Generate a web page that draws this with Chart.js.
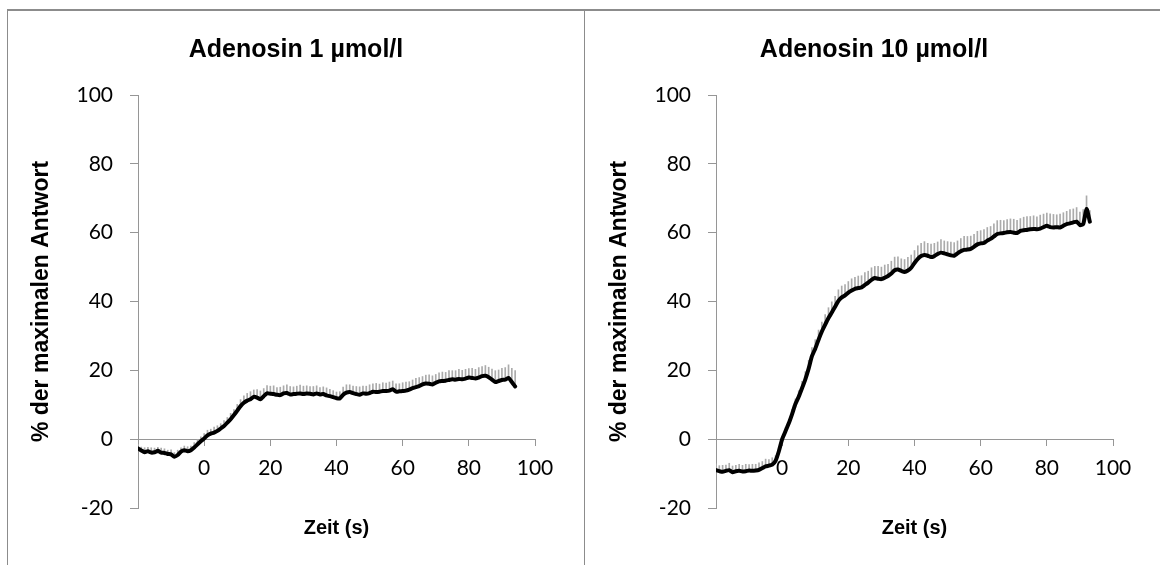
<!DOCTYPE html>
<html>
<head>
<meta charset="utf-8">
<script src="https://cdn.jsdelivr.net/npm/chart.js@4.4.0/dist/chart.umd.min.js"></script>
<style>
  html, body { margin: 0; padding: 0; background: #fff; }
  #seite { position: relative; width: 1160px; height: 565px; overflow: hidden; }
  canvas { position: absolute; top: 0; }
  #links { left: 0; }
  #rechts { left: 578px; }
  .rahmen { position: absolute; background: #8c8c8c; }
</style>
</head>
<body>
<div id="seite">
  <canvas id="links" width="580" height="565"></canvas>
  <canvas id="rechts" width="580" height="565"></canvas>
  <div class="rahmen" style="left:7px; top:9px; width:1153px; height:2px;"></div>
  <div class="rahmen" style="left:7px; top:9px; width:1px; height:556px;"></div>
  <div class="rahmen" style="left:584px; top:9px; width:1px; height:556px;"></div>
</div>
<script>
// Zeitachse (s)
const zeit1 = [-20, -19, -18, -17, -16, -15, -14, -13, -12, -11, -10, -9, -8, -7, -6, -5, -4, -3, -2, -1,
  0, 1, 2, 3, 4, 5, 6, 7, 8, 9, 10, 11, 12, 13, 14, 15, 16, 17, 18, 19,
  20, 21, 22, 23, 24, 25, 26, 27, 28, 29, 30, 31, 32, 33, 34, 35, 36, 37, 38, 39,
  40, 41, 42, 43, 44, 45, 46, 47, 48, 49, 50, 51, 52, 53, 54, 55, 56, 57, 58, 59,
  60, 61, 62, 63, 64, 65, 66, 67, 68, 69, 70, 71, 72, 73, 74, 75, 76, 77, 78, 79,
  80, 81, 82, 83, 84, 85, 86, 87, 88, 89, 90, 91, 92, 93, 94];

const zeit2 = [-20, -19, -18, -17, -16, -15, -14, -13, -12, -11, -10, -9, -8, -7, -6, -5, -4, -3, -2, -1,
  0, 1, 2, 3, 4, 5, 6, 7, 8, 9, 10, 11, 12, 13, 14, 15, 16, 17, 18, 19,
  20, 21, 22, 23, 24, 25, 26, 27, 28, 29, 30, 31, 32, 33, 34, 35, 36, 37, 38, 39,
  40, 41, 42, 43, 44, 45, 46, 47, 48, 49, 50, 51, 52, 53, 54, 55, 56, 57, 58, 59,
  60, 61, 62, 63, 64, 65, 66, 67, 68, 69, 70, 71, 72, 73, 74, 75, 76, 77, 78, 79,
  80, 81, 82, 83, 84, 85, 86, 87, 88, 89, 90, 91, 92, 93];

// Adenosin 1 µmol/l: Mittelwert und Fehler (% der maximalen Antwort)
const werte1 = [-2.7, -3.3, -3.8, -3.5, -3.9, -3.8, -3.4, -3.9, -4.0, -4.3, -4.4, -5.1, -4.6, -3.6, -3.2, -3.5, -3.2, -2.4, -1.5, -0.6,
  0.2, 1.1, 1.6, 1.9, 2.4, 3.1, 3.8, 4.8, 5.8, 7.0, 8.3, 9.6, 10.6, 11.2, 11.6, 12.3, 12.1, 11.6, 12.5, 13.3,
  13.2, 13.1, 12.9, 12.8, 13.3, 13.4, 13.0, 13.1, 13.2, 13.3, 13.1, 13.3, 13.2, 13.0, 13.3, 13.0, 13.1, 12.7, 12.5, 12.2,
  11.9, 11.8, 12.9, 13.5, 13.7, 13.4, 13.1, 12.9, 13.3, 13.2, 13.4, 13.8, 13.7, 13.8, 14.0, 14.0, 14.1, 14.5, 13.8, 13.9,
  14.0, 14.1, 14.4, 14.8, 15.1, 15.4, 15.9, 16.2, 16.1, 15.9, 16.4, 16.8, 16.9, 17.0, 17.2, 17.4, 17.3, 17.5, 17.4, 17.6,
  17.9, 17.8, 17.6, 17.9, 18.3, 18.4, 18.0, 17.3, 16.6, 16.9, 17.2, 17.3, 17.8, 16.6, 15.3];

const fehler1 = [1.2, 1.0, 1.3, 1.1, 1.4, 1.2, 1.0, 1.3, 1.2, 1.1, 1.3, 1.2, 1.4, 1.1, 1.2, 1.3, 1.2, 1.4, 1.5, 1.3,
  1.4, 1.5, 1.3, 1.6, 1.5, 1.4, 1.6, 1.5, 1.7, 1.6, 1.8, 1.9, 2.0, 2.1, 2.2, 2.0, 2.3, 2.4, 2.2, 2.3,
  2.2, 2.4, 2.1, 2.3, 2.2, 2.4, 2.3, 2.1, 2.2, 2.4, 2.3, 2.2, 2.1, 2.3, 2.2, 2.0, 2.1, 2.2, 2.0, 1.9,
  1.8, 2.0, 2.2, 2.3, 2.1, 2.0, 2.2, 2.3, 2.1, 2.2, 2.4, 2.3, 2.5, 2.2, 2.4, 2.3, 2.5, 2.4, 2.3, 2.2,
  2.4, 2.5, 2.3, 2.4, 2.6, 2.5, 2.3, 2.4, 2.6, 2.5, 2.4, 2.5, 2.6, 2.4, 2.7, 2.5, 2.6, 2.8, 2.6, 2.7,
  2.6, 2.8, 2.7, 2.9, 2.8, 3.0, 2.9, 3.1, 3.3, 3.2, 3.4, 3.5, 3.8, 4.0, 4.6];

// Adenosin 10 µmol/l
const werte2 = [-9.0, -9.3, -9.5, -9.2, -9.0, -9.6, -9.3, -9.2, -9.4, -9.3, -9.1, -9.2, -9.1, -8.9, -8.4, -7.9, -7.7, -7.4, -6.3, -3.5,
  0.0, 2.3, 4.6, 7.3, 10.2, 12.3, 14.8, 17.4, 20.5, 24.1, 26.3, 28.9, 31.3, 33.3, 35.2, 36.8, 38.5, 40.2, 41.2, 41.8,
  42.6, 43.2, 43.7, 43.9, 44.1, 44.8, 45.5, 46.3, 46.8, 46.6, 46.5, 46.9, 47.4, 48.1, 49.1, 49.3, 48.9, 48.6, 49.0, 49.8,
  51.2, 52.4, 53.2, 53.5, 53.3, 52.9, 53.2, 53.8, 54.2, 54.0, 53.7, 53.4, 53.3, 54.0, 54.6, 55.0, 55.1, 55.3, 55.9, 56.6,
  56.9, 57.0, 57.7, 58.2, 58.9, 59.6, 59.8, 59.9, 60.1, 60.2, 60.0, 59.9, 60.5, 60.7, 60.8, 61.0, 61.1, 61.0, 61.2, 61.6,
  62.0, 61.6, 61.5, 61.6, 61.5, 62.0, 62.5, 62.7, 63.0, 63.2, 62.2, 62.5, 66.9, 63.2];

const fehler2 = [1.8, 1.6, 1.9, 1.7, 2.0, 1.8, 1.7, 1.9, 1.8, 2.0, 1.7, 1.9, 1.8, 2.0, 1.9, 2.1, 1.8, 2.0, 1.5, 1.0,
  0.8, 1.0, 1.2, 1.4, 1.5, 1.8, 2.0, 2.2, 2.4, 2.5, 2.6, 2.8, 2.7, 2.9, 3.0, 3.1, 3.0, 3.2, 3.3, 3.1,
  3.2, 3.4, 3.3, 3.5, 3.4, 3.6, 3.3, 3.5, 3.4, 3.6, 3.5, 3.7, 3.4, 3.6, 3.8, 3.7, 3.5, 3.6, 3.8, 3.7,
  3.6, 3.8, 3.7, 3.9, 3.6, 3.8, 3.7, 3.5, 3.8, 3.6, 3.7, 3.9, 3.8, 3.6, 3.7, 3.9, 3.8, 3.7, 3.6, 3.8,
  3.7, 3.9, 3.8, 3.6, 3.7, 3.9, 3.8, 3.6, 3.7, 3.8, 3.9, 3.7, 3.6, 3.8, 3.9, 3.7, 3.8, 3.6, 3.9, 3.8,
  3.7, 3.9, 3.8, 3.6, 3.9, 3.8, 3.7, 4.0, 3.9, 4.1, 3.8, 4.2, 3.8, 3.2];

const xTicks = [-20, 0, 20, 40, 60, 80, 100];
const yTicks = [-20, 0, 20, 40, 60, 80, 100];

const schriftTitel = '"Liberation Sans", Arial, sans-serif';
const schriftZahlen = 'Lato, "Open Sans", sans-serif';

// Titel und x-Achsentitel selbst zeichnen
const beschriftung = {
  id: 'beschriftung',
  afterDraw(chart, args, opts) {
    const ctx = chart.ctx;
    const area = chart.chartArea;
    ctx.save();
    ctx.fillStyle = '#000';
    ctx.textAlign = 'center';
    ctx.textBaseline = 'middle';
    ctx.font = 'bold 25px ' + schriftTitel;
    ctx.fillText(opts.titel, opts.titelX, 50);
    ctx.font = 'bold 20px ' + schriftTitel;
    ctx.fillText('Zeit (s)', (area.left + area.right) / 2, 528);
    ctx.restore();
  }
};

function zeichneDiagramm(id, titel, titelX, zeit, werte, fehler) {
  const linie = zeit.map((t, i) => ({ x: t, y: werte[i] }));
  const balken = zeit.map((t, i) => ({ x: t, y: [werte[i], werte[i] + fehler[i]] }));

  new Chart(document.getElementById(id), {
    type: 'line',
    data: {
      datasets: [{
        type: 'line',
        data: linie,
        borderColor: '#000',
        borderWidth: 4,
        pointRadius: 0,
        tension: 0.2,
        borderJoinStyle: 'round',
        borderCapStyle: 'round',
        order: 0
      }, {
        type: 'bar',
        data: balken,
        backgroundColor: '#ababab',
        barThickness: 1,
        order: 1
      }]
    },
    options: {
      responsive: false,
      animation: false,
      devicePixelRatio: 1,
      layout: { padding: { top: 95, right: 45, bottom: 57, left: 0 } },
      plugins: {
        legend: { display: false },
        tooltip: { enabled: false },
        beschriftung: { titel: titel, titelX: titelX }
      },
      scales: {
        x: {
          type: 'linear',
          position: { y: 0 },
          min: -20,
          max: 100,
          offset: false,
          afterBuildTicks: s => { s.ticks = xTicks.map(v => ({ value: v })); },
          ticks: {
            color: '#000',
            font: { family: schriftZahlen, size: 21 },
            padding: 10,
            maxRotation: 0,
            autoSkip: false,
            callback: v => (v === -20 ? '' : v)
          },
          grid: { drawOnChartArea: false, offset: false, tickLength: 6, color: '#969696' },
          border: { color: '#969696' }
        },
        y: {
          min: -20,
          max: 100,
          afterBuildTicks: s => { s.ticks = yTicks.map(v => ({ value: v })); },
          afterFit: s => { s.width = 138; },
          ticks: {
            color: '#000',
            font: { family: schriftZahlen, size: 21 },
            padding: 17
          },
          grid: { drawOnChartArea: false, tickLength: 8, color: '#969696' },
          border: { color: '#969696' },
          title: {
            display: true,
            text: '% der maximalen Antwort',
            color: '#000',
            font: { family: schriftTitel, size: 23, weight: 'bold' },
            padding: { top: 28, bottom: 0 }
          }
        }
      }
    },
    plugins: [beschriftung]
  });
}

zeichneDiagramm('links', 'Adenosin 1 µmol/l', 296, zeit1, werte1, fehler1);
zeichneDiagramm('rechts', 'Adenosin 10 µmol/l', 296, zeit2, werte2, fehler2);
</script>
</body>
</html>
